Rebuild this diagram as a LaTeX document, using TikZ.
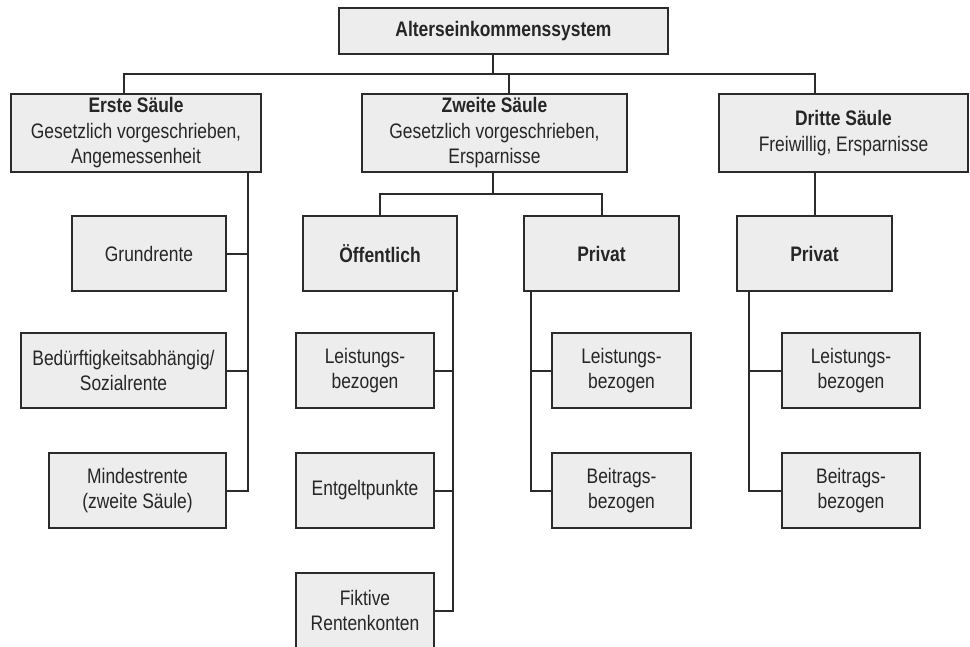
\documentclass[tikz,border=0pt]{standalone}
\usepackage{fontspec}
\setmainfont{Liberation Sans}[FakeStretch=0.83]
\usepackage{xcolor}
\usetikzlibrary{positioning, calc}
\definecolor{boxgray}{HTML}{EDEDED}
\definecolor{linegray}{HTML}{2B2B2B}
\tikzset{
  pillarbox/.style={
    draw=linegray, line width=1.6pt, fill=boxgray, align=center,
    inner sep=0pt, font=\fontsize{21}{25.5}\selectfont, text=black!85,
    minimum height=75pt
  },
  pillarline/.style={
    draw=linegray, line width=2pt
  },
}
\begin{document}
\begin{tikzpicture}[x=1pt, y=-1pt]
  \useasboundingbox (0,0) rectangle (970,646);

  % --- Root ---
  \node[pillarbox, minimum width=329pt, minimum height=46pt] (root) at (503.5, 31) {\textbf{Alterseinkommenssystem}};

  % --- Pillars ---
  \node[pillarbox, minimum width=250pt, minimum height=78pt] (erste) at (136, 133)
    {\textbf{Erste Säule}\\Gesetzlich vorgeschrieben,\\Angemessenheit};
  \node[pillarbox, minimum width=265pt, minimum height=78pt] (zweite) at (494.5, 133)
    {\textbf{Zweite Säule}\\Gesetzlich vorgeschrieben,\\Ersparnisse};
  \node[pillarbox, minimum width=249pt, minimum height=78pt] (dritte) at (843.5, 133)
    {\textbf{Dritte Säule}\\Freiwillig, Ersparnisse};

  % --- Erste Saeule ---
  \node[pillarbox, minimum width=154pt] (grund) at (149, 253.5) {Grundrente};
  \node[pillarbox, minimum width=205pt] (beduerf) at (123.5, 370.5) {Bedürftigkeitsabhängig/\\Sozialrente};
  \node[pillarbox, minimum width=177pt] (mindest) at (137.5, 490.5) {Mindestrente\\(zweite Säule)};

  % --- Zweite Saeule ---
  \node[pillarbox, minimum width=154pt] (oeff) at (380, 253.5) {\textbf{Öffentlich}};
  \node[pillarbox, minimum width=138pt] (leistoeff) at (365, 370.5) {Leistungs-\\bezogen};
  \node[pillarbox, minimum width=138pt] (entgelt) at (365, 490.5) {Entgeltpunkte};
  \node[pillarbox, minimum width=138pt] (fiktiv) at (365, 610.5) {Fiktive\\Rentenkonten};

  \node[pillarbox, minimum width=155pt] (privzwei) at (601.5, 253.5) {\textbf{Privat}};
  \node[pillarbox, minimum width=139pt] (leistzwei) at (621.5, 370.5) {Leistungs-\\bezogen};
  \node[pillarbox, minimum width=139pt] (beitrzwei) at (621.5, 490.5) {Beitrags-\\bezogen};

  % --- Dritte Saeule ---
  \node[pillarbox, minimum width=155pt] (privdrei) at (814.5, 253.5) {\textbf{Privat}};
  \node[pillarbox, minimum width=138pt] (leistdrei) at (851, 370.5) {Leistungs-\\bezogen};
  \node[pillarbox, minimum width=138pt] (beitrdrei) at (851, 490.5) {Beitrags-\\bezogen};

  % --- Bus coordinates ---
  \coordinate (bus0) at (493, 74);
  \coordinate (bus1) at (124, 74);
  \coordinate (bus2) at (509, 74);
  \coordinate (bus3) at (815, 74);
  \coordinate (split) at (493, 194);
  \coordinate (spe) at (248, 172);
  \coordinate (spo) at (453, 291);
  \coordinate (spz) at (531, 291);
  \coordinate (spd) at (749, 291);

  % --- Connectors ---
  \draw[pillarline] (root.south -| bus0) -- (bus0);
  \draw[pillarline] (bus1 |- erste.north) -- (bus1) -- (bus3) -- (bus3 |- dritte.north);
  \draw[pillarline] (bus2) -- (bus2 |- zweite.north);

  \draw[pillarline] (spe) |- (mindest.east);
  \draw[pillarline] (grund.east) -- (grund.east -| spe);
  \draw[pillarline] (beduerf.east) -- (beduerf.east -| spe);

  \draw[pillarline] (zweite.south -| split) -- (split);
  \draw[pillarline] (oeff.north) -- (oeff.north |- split) -- (privzwei.north |- split) -- (privzwei.north);
  \draw[pillarline] (spo) |- (fiktiv.east);
  \draw[pillarline] (leistoeff.east) -- (leistoeff.east -| spo);
  \draw[pillarline] (entgelt.east) -- (entgelt.east -| spo);

  \draw[pillarline] (spz) |- (beitrzwei.west);
  \draw[pillarline] (leistzwei.west) -- (leistzwei.west -| spz);

  \draw[pillarline] (privdrei.north |- dritte.south) -- (privdrei.north);
  \draw[pillarline] (spd) |- (beitrdrei.west);
  \draw[pillarline] (leistdrei.west) -- (leistdrei.west -| spd);

\end{tikzpicture}
\end{document}
